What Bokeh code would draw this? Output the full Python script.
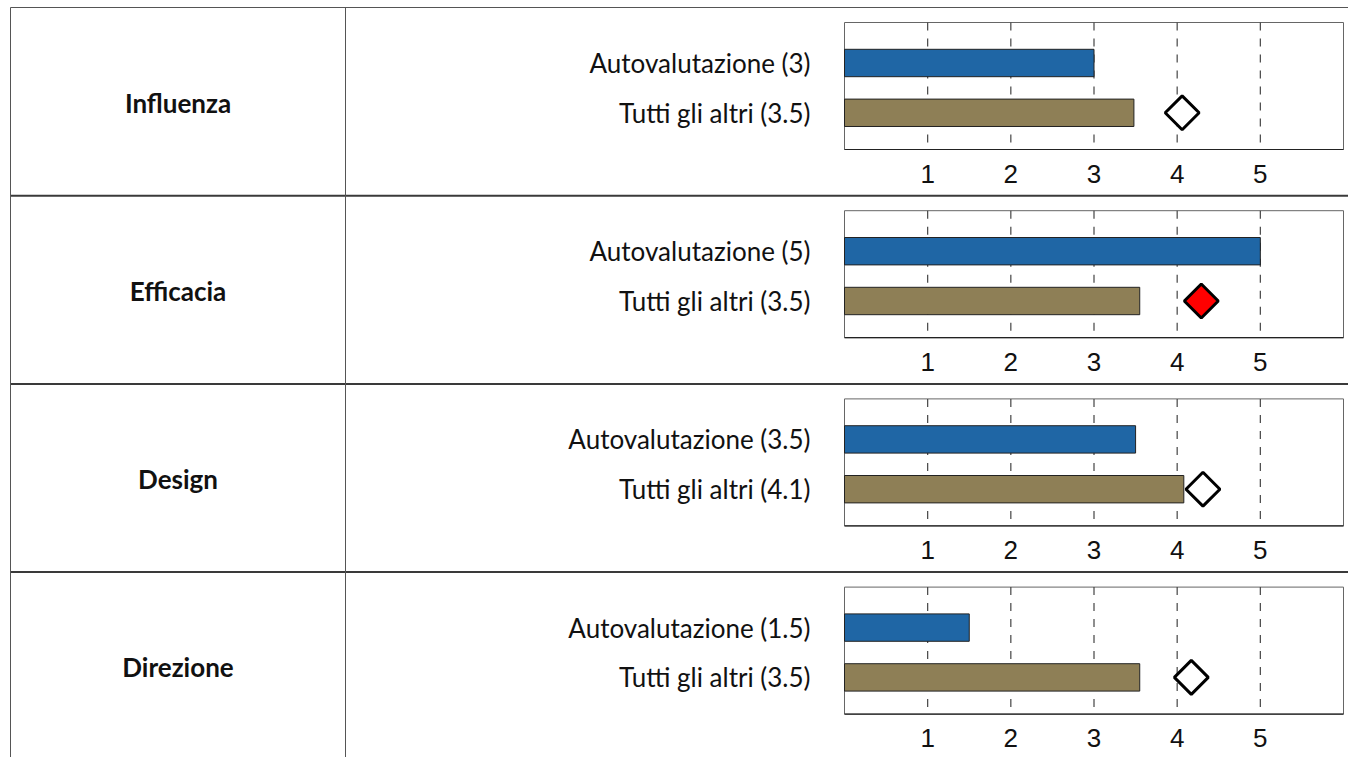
import math
from bokeh.plotting import figure
from bokeh.models import Range1d
from bokeh.embed import file_html
from bokeh.resources import INLINE
from bokeh.core.properties import value

# ---------------- data ----------------
categories = ["Influenza", "Efficacia", "Design", "Direzione"]
series_names = ["Autovalutazione", "Tutti gli altri"]
self_scores = [3.0, 5.0, 3.5, 1.5]
self_labels = ["3", "5", "3.5", "1.5"]
others_scores = [3.48, 3.55, 4.08, 3.55]
others_labels = ["3.5", "3.5", "4.1", "3.5"]
marker_scores = [4.06, 4.29, 4.31, 4.17]
marker_highlight = [False, True, False, False]
ticks = [1, 2, 3, 4, 5]
tick_labels = ["1", "2", "3", "4", "5"]
x_max = 6

# ---------------- layout / style ----------------
W, H = 1348, 757
TABLE_TOP = 7
ROW_H = 188.2
TABLE_LEFT = 10
COL1 = 345
CHART_L, CHART_R = 844, 1343
FRAME_TOP_OFF = 15
FRAME_H = 127
Y0_OFF = 105.3          # pixel offset (from row top) of the second bar centre
UNIT_Y = 49.8           # pixels between the two bars
LABEL_RIGHT = 810
BLUE = "#1f66a5"
BROWN = "#8e7f56"

px_per_val = (CHART_R - CHART_L) / x_max
y_top_val = (Y0_OFF - FRAME_TOP_OFF) / UNIT_Y
y_bot_val = (Y0_OFF - FRAME_TOP_OFF - FRAME_H) / UNIT_Y
tick_label_y = -(166 - Y0_OFF) / UNIT_Y

p = figure(width=W, height=H, output_backend="svg", toolbar_location=None,
           x_range=Range1d(0, W), y_range=Range1d(H, 0),
           x_axis_location=None, y_axis_location=None,
           min_border=0, outline_line_color=None)
p.grid.visible = False
p.background_fill_color = "white"
p.border_fill_color = "white"

p.extra_x_ranges = {"v": Range1d(-CHART_L / px_per_val, (W - CHART_L) / px_per_val)}
yr = {}
for k in range(len(categories)):
    p0 = TABLE_TOP + k * ROW_H + Y0_OFF
    yr[f"r{k}"] = Range1d((p0 - H) / UNIT_Y, p0 / UNIT_Y)
p.extra_y_ranges = yr

# table lines
n = len(categories)
hy = [TABLE_TOP + k * ROW_H for k in range(n)]
p.segment(x0=[TABLE_LEFT] * n, x1=[W] * n, y0=hy, y1=hy,
          line_color=["#555555"] + ["#3a3a3a"] * (n - 1),
          line_width=[1.2] + [2] * (n - 1))
p.segment(x0=[TABLE_LEFT, COL1], x1=[TABLE_LEFT, COL1], y0=[TABLE_TOP] * 2, y1=[H] * 2,
          line_color="#555555", line_width=1)

# category labels
p.text(x=[(TABLE_LEFT + COL1) / 2] * n,
       y=[TABLE_TOP + (k + 0.5) * ROW_H + 1 for k in range(n)],
       text=categories, text_font=value("Lato"), text_font_style="bold",
       text_font_size="26px", text_align="center", text_baseline="middle",
       text_color="#111111")

for k in range(n):
    rn = f"r{k}"
    # chart frame
    p.quad(left=[0], right=[x_max], bottom=[y_bot_val], top=[y_top_val],
           fill_color="white", line_color="#666666", line_width=1,
           x_range_name="v", y_range_name=rn)
    # dashed grid
    p.segment(x0=ticks, x1=ticks, y0=[y_bot_val] * len(ticks), y1=[y_top_val] * len(ticks),
              line_color="#444444", line_width=1.2, line_dash="8 8", line_dash_offset=-7,
              x_range_name="v", y_range_name=rn)
    # bottom axis line
    p.segment(x0=[0], x1=[x_max], y0=[y_bot_val], y1=[y_bot_val],
              line_color="#222222", line_width=1.2,
              x_range_name="v", y_range_name=rn)
    # bars
    p.hbar(y=[1, 0], left=[0, 0], right=[self_scores[k], others_scores[k]], height=0.55,
           fill_color=[BLUE, BROWN], line_color="#222222", line_width=1,
           x_range_name="v", y_range_name=rn)
    # marker
    p.scatter(x=[marker_scores[k]], y=[0], marker="square", angle=math.pi / 4, size=24,
              fill_color="red" if marker_highlight[k] else "white",
              line_color="black", line_width=3,
              x_range_name="v", y_range_name=rn)
    # tick labels
    p.text(x=ticks, y=[tick_label_y] * len(ticks), text=tick_labels,
           text_font=value("Liberation Sans"), text_font_size="26px",
           text_align="center", text_baseline="middle", text_color="#111111",
           x_range_name="v", y_range_name=rn)
    # bar labels
    p.text(x=[LABEL_RIGHT, LABEL_RIGHT], y=[1, 0],
           text=[f"{series_names[0]} ({self_labels[k]})", f"{series_names[1]} ({others_labels[k]})"],
           text_font=value("Lato"), text_font_size="26px",
           text_align="right", text_baseline="middle", text_color="#111111",
           y_range_name=rn)

open("out.html", "w").write(file_html(p, INLINE))
